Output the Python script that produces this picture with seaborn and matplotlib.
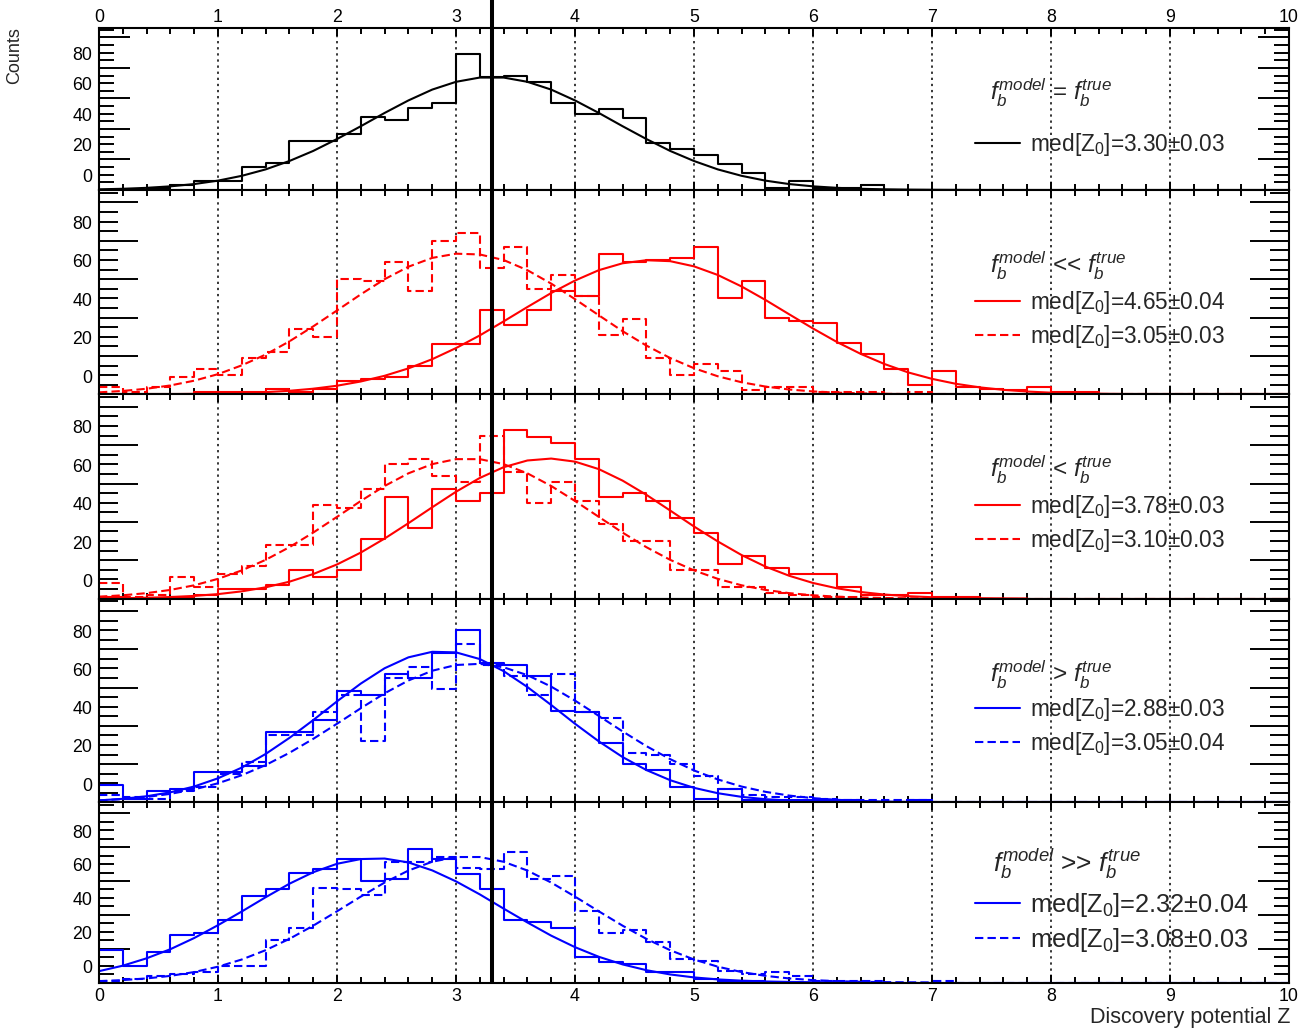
import numpy as np
import pandas as pd
import matplotlib
matplotlib.use("Agg")
import matplotlib.pyplot as plt
import seaborn as sns
from matplotlib.ticker import MultipleLocator, FixedLocator, NullFormatter
from matplotlib.transforms import ScaledTranslation

# ------------------------------------------------------------------ data
BIN_EDGES = [round(0.2 * k, 1) for k in range(51)]     # 0.2 wide bins
CURVE_X = [round(0.2 * k, 1) for k in range(51)]       # fit curves sampled every 0.2
X_TICKS = list(range(0, 11))
X_TICK_LABELS = [str(v) for v in X_TICKS]
Y_TICKS = [0, 20, 40, 60, 80, 100]
Y_TICK_LABELS = ["0", "20", "40", "60", "80", ""]
REFERENCE_Z = 3.30
X_LABEL = "Discovery potential Z"
Y_LABEL = "Counts"

PANEL_TITLES = [
    r"$f_b^{model}$ = $f_b^{true}$",
    r"$f_b^{model}$ << $f_b^{true}$",
    r"$f_b^{model}$ < $f_b^{true}$",
    r"$f_b^{model}$ > $f_b^{true}$",
    r"$f_b^{model}$ >> $f_b^{true}$",
]

# panel 1  (f_model = f_true)
H1 = [0, 0, 1, 3, 6, 6, 15, 18, 32, 32, 37, 48, 46, 54, 57, 89, 74, 75, 71, 57,
      50, 53, 47, 31, 27, 23, 17, 11, 1, 6, 1, 1, 3]
C1 = [0.44, 0.80, 1.41, 2.40, 3.89, 6.14, 9.29, 13.5, 19.0, 25.6, 33.4, 41.8, 50.5,
      58.7, 65.8, 70.9, 73.7, 73.7, 70.9, 65.8, 58.7, 50.5, 41.8, 33.4, 25.6, 19.0,
      13.5, 9.29, 6.14, 3.89, 2.40, 1.41, 0.80, 0.44, 0.23, 0.12, 0.06, 0.03]
# panel 2  (f_model << f_true)
H2_SOLID = [0, 0, 0, 0, 1, 1, 1, 3, 1, 3, 7, 8, 9, 15, 26, 26, 44, 36, 44, 54,
            51, 73, 69, 70, 71, 77, 50, 59, 40, 38, 37, 27, 21, 13, 5, 12, 4, 3, 2, 4,
            1, 1]
C2_SOLID = [0.01, 0.03, 0.06, 0.11, 0.21, 0.38, 0.66, 1.12, 1.83, 2.91, 4.47, 6.68,
            9.65, 13.5, 18.3, 24.1, 30.7, 38.0, 45.5, 52.8, 59.3, 64.7, 68.3, 69.9,
            69.4, 66.7, 62.2, 56.2, 49.2, 41.7, 34.3, 27.3, 21.1, 15.8, 11.4, 8.05,
            5.48, 3.62, 2.32, 1.44, 0.86, 0.50, 0.28, 0.15, 0.08]
H2_DASH = [4, 1, 4, 9, 13, 10, 19, 22, 34, 30, 60, 59, 69, 54, 80, 84, 66, 77, 55, 62,
           51, 31, 39, 19, 10, 16, 12, 2, 4, 4, 1, 1, 1, 0, 1]
C2_DASH = [1.02, 1.75, 2.90, 4.62, 7.10, 10.5, 15.1, 20.7, 27.6, 35.4, 43.7, 52.1,
           60.0, 66.5, 71.1, 73.3, 72.9, 70.0, 64.7, 57.7, 49.6, 41.2, 32.9, 25.4,
           18.9, 13.6, 9.39, 6.27, 4.04, 2.50, 1.50, 0.87, 0.48, 0.26, 0.13, 0.06]
# panel 3  (f_model < f_true)
H3_SOLID = [1, 0, 0, 1, 2, 5, 5, 7, 15, 11, 15, 31, 53, 37, 57, 51, 55, 88, 84, 81,
            73, 53, 55, 51, 42, 34, 18, 22, 16, 13, 13, 6, 2, 2, 3, 1, 1]
C3_SOLID = [0.13, 0.24, 0.45, 0.81, 1.40, 2.34, 3.78, 5.87, 8.81, 12.8, 17.8, 24.0,
            31.3, 39.3, 47.6, 55.7, 62.9, 68.5, 72.0, 73.0, 71.4, 67.5, 61.5, 54.1,
            45.9, 37.6, 29.8, 22.7, 16.7, 11.9, 8.15, 5.39, 3.44, 2.12, 1.26, 0.72,
            0.40, 0.21, 0.11, 0.05]
H3_DASH = [8, 1, 2, 11, 6, 13, 17, 28, 28, 49, 47, 57, 70, 73, 64, 61, 85, 66, 50, 61,
           51, 39, 30, 30, 15, 15, 6, 6, 3, 2, 1, 1]
C3_DASH = [1.01, 1.73, 2.85, 4.53, 6.93, 10.3, 14.7, 20.2, 26.8, 34.4, 42.6, 50.9,
           58.7, 65.3, 70.1, 72.7, 72.7, 70.1, 65.3, 58.7, 50.9, 42.6, 34.4, 26.8,
           20.2, 14.7, 10.3, 6.93, 4.53, 2.85, 1.73, 1.01, 0.57, 0.31, 0.16, 0.08]
# panel 4  (f_model > f_true)
H4_SOLID = [9, 2, 6, 7, 16, 16, 19, 37, 37, 43, 58, 56, 67, 65, 78, 90, 73, 72, 66, 48,
            47, 31, 20, 17, 8, 2, 7, 1, 1, 1, 1, 1, 0, 0, 1]
C4_SOLID = [1.05, 1.88, 3.22, 5.27, 8.31, 12.6, 18.2, 25.3, 33.7, 43.0, 52.8, 62.1,
            70.1, 75.8, 78.7, 78.4, 74.9, 68.6, 60.3, 50.9, 41.1, 31.9, 23.7, 16.9,
            11.6, 7.61, 4.80, 2.90, 1.68, 0.93, 0.50, 0.25, 0.12, 0.06]
H4_DASH = [4, 3, 2, 6, 8, 15, 21, 35, 35, 47, 56, 32, 65, 71, 59, 83, 72, 66, 56, 67,
           47, 44, 26, 25, 20, 14, 7, 4, 3, 3, 2, 1, 1, 1, 1]
C4_DASH = [1.03, 1.74, 2.83, 4.47, 6.80, 9.99, 14.2, 19.5, 25.9, 33.2, 41.1, 49.2,
           57.0, 63.7, 68.8, 71.8, 72.4, 70.6, 66.5, 60.5, 53.2, 45.2, 37.1, 29.4,
           22.6, 16.7, 12.0, 8.28, 5.53, 3.57, 2.23, 1.34, 0.78, 0.44, 0.24, 0.12]
# panel 5  (f_model >> f_true)
H5_SOLID = [19, 10, 18, 28, 29, 37, 51, 55, 65, 67, 73, 60, 61, 79, 73, 64, 55, 37, 36,
            32, 15, 12, 11, 6, 6, 2, 1, 1]
C5_SOLID = [6.70, 9.95, 14.3, 19.7, 26.3, 33.9, 42.0, 50.4, 58.4, 65.2, 70.2, 73.0,
            73.3, 71.0, 66.3, 59.8, 52.1, 43.7, 35.5, 27.7, 20.9, 15.2, 10.7, 7.28,
            4.76, 3.01, 1.83, 1.08, 0.61, 0.34, 0.18, 0.09, 0.05]
H5_DASH = [1, 2, 4, 5, 6, 10, 10, 25, 32, 56, 55, 52, 71, 71, 74, 68, 67, 77, 61, 63,
           42, 29, 31, 24, 14, 13, 7, 5, 6, 4, 1, 1, 1, 0, 0, 1]
C5_DASH = [0.80, 1.42, 2.41, 3.92, 6.18, 9.35, 13.6, 19.1, 25.8, 33.6, 42.1, 50.8,
           59.1, 66.2, 71.4, 74.2, 74.2, 71.4, 66.2, 59.1, 50.8, 42.1, 33.6, 25.8,
           19.1, 13.6, 9.35, 6.18, 3.92, 2.41, 1.42, 0.80, 0.44, 0.23, 0.12, 0.06]

PANEL_SERIES = [
    [(H1, C1, "black", "solid", "med[Z$_0$]=3.30±0.03")],
    [(H2_SOLID, C2_SOLID, "red", "solid", "med[Z$_0$]=4.65±0.04"),
     (H2_DASH, C2_DASH, "red", "dashed", "med[Z$_0$]=3.05±0.03")],
    [(H3_SOLID, C3_SOLID, "red", "solid", "med[Z$_0$]=3.78±0.03"),
     (H3_DASH, C3_DASH, "red", "dashed", "med[Z$_0$]=3.10±0.03")],
    [(H4_SOLID, C4_SOLID, "blue", "solid", "med[Z$_0$]=2.88±0.03"),
     (H4_DASH, C4_DASH, "blue", "dashed", "med[Z$_0$]=3.05±0.04")],
    [(H5_SOLID, C5_SOLID, "blue", "solid", "med[Z$_0$]=2.32±0.04"),
     (H5_DASH, C5_DASH, "blue", "dashed", "med[Z$_0$]=3.08±0.03")],
]

# ------------------------------------------------------------------ style / layout
sns.set_theme(style="white")
plt.rcParams["font.family"] = ["Liberation Sans", "DejaVu Sans"]
plt.rcParams["mathtext.fontset"] = "custom"
plt.rcParams["mathtext.rm"] = "Liberation Sans"
plt.rcParams["mathtext.it"] = "Liberation Sans:italic"
plt.rcParams["mathtext.bf"] = "Liberation Sans:bold"
plt.rcParams["axes.edgecolor"] = "black"

W_PX, H_PX, DPI = 1304, 1034, 100
AX_L, AX_R = 99.0, 1289.0
EDGES_PX = [27.5, 190.0, 394.3, 598.6, 802.4, 982.5]
YMAX = 106.5
LABEL_SHIFT = 9.5          # y tick labels drawn above their ticks (as in the original)
DASH = (0, (4, 2))
LW = 1.5

TITLE_POS = [(990, 93), (990, 266), (990, 470), (990, 675), (993, 864)]
LEGEND_POS = [(975, 144), (975, 319.5), (975, 523.5), (975, 726.5), (975, 922.5)]
TITLE_FS = [17.5, 17.5, 17.5, 17.5, 19]
LEGEND_FS = [16.3, 16.3, 16.3, 16.3, 18.3]
LEGEND_SPACING = [0.3, 0.3, 0.3, 0.3, 0.25]
HANDLE_PX, HANDLE_GAP_PX = 45.0, 10.0
YMAJ_LEN = [22.3, 28, 28, 28, 22.3]
YMIN_LEN = [10.8, 13.7, 13.7, 13.7, 10.8]

fig = plt.figure(figsize=(W_PX / DPI, H_PX / DPI), dpi=DPI)
fig.patch.set_facecolor("white")

centers = [0.5 * (a + b) for a, b in zip(BIN_EDGES[:-1], BIN_EDGES[1:])]
axes = []
for i, series in enumerate(PANEL_SERIES):
    top, bot = EDGES_PX[i], EDGES_PX[i + 1]
    ax = fig.add_axes([AX_L / W_PX, 1 - bot / H_PX, (AX_R - AX_L) / W_PX, (bot - top) / H_PX])
    ax.set_facecolor("white")
    axes.append(ax)
    handles, labels = [], []
    for counts, curve, color, style, label in series:
        full = list(counts) + [0] * (len(centers) - len(counts))
        df = pd.DataFrame({"z": centers, "n": full})
        ls = "-" if style == "solid" else DASH
        sns.histplot(data=df, x="z", weights="n", bins=BIN_EDGES, element="step",
                     fill=False, color=color, linewidth=LW, linestyle=ls, ax=ax, zorder=3)
        cdf = pd.DataFrame({"z": CURVE_X[:len(curve)], "f": curve})
        sns.lineplot(data=cdf, x="z", y="f", color=color, linewidth=LW, linestyle=ls,
                     ax=ax, zorder=4, sort=False)
        handles.append(ax.lines[-1])
        labels.append(label)

    ax.set_xlim(0, 10)
    ax.set_ylim(0, YMAX)
    ax.set_xlabel("")
    ax.set_ylabel("")
    for s in ax.spines.values():
        s.set_linewidth(1.5)
        s.set_color("black")
        s.set_zorder(6)

    # vertical reference line
    if i == 0:
        ax.axvline(REFERENCE_Z, ymin=0, ymax=1 + top / (bot - top), color="black",
                   linewidth=2.9, clip_on=False, zorder=7)
    else:
        ax.axvline(REFERENCE_Z, color="black", linewidth=2.9, zorder=7)

    # grid
    ax.set_axisbelow(True)
    ax.xaxis.set_major_locator(FixedLocator(X_TICKS))
    ax.xaxis.set_minor_locator(MultipleLocator(0.2))
    ax.grid(axis="x", which="major", color="black", linestyle=(0, (1.5, 2.5)), linewidth=1.1)
    ax.grid(axis="y", visible=False)

    # x ticks
    ax.set_xticks(X_TICKS)
    ax.set_xticklabels(X_TICK_LABELS)
    ax.tick_params(axis="x", which="major", direction="in", length=6, width=1.4,
                   top=True, bottom=True, color="black", labelsize=12.8,
                   pad=(0.8 if i == 0 else 4),
                   labelcolor="black", labelbottom=(i == 4), labeltop=(i == 0))
    ax.tick_params(axis="x", which="minor", direction="in", length=4.5, width=1.4,
                   top=True, bottom=True, color="black")

    # y ticks
    ax.set_yticks(Y_TICKS)
    ax.set_yticklabels(Y_TICK_LABELS)
    ax.yaxis.set_minor_locator(MultipleLocator(5))
    ax.yaxis.set_minor_formatter(NullFormatter())
    ax.tick_params(axis="y", which="major", direction="in", length=YMAJ_LEN[i], width=1.4,
                   left=True, right=True, color="black", labelsize=12.8, pad=5,
                   labelcolor="black")
    ax.tick_params(axis="y", which="minor", direction="in", length=YMIN_LEN[i], width=1.4,
                   left=True, right=True, color="black")
    dy = LABEL_SHIFT * (bot - top) / YMAX / DPI
    off = ScaledTranslation(0, dy, fig.dpi_scale_trans)
    for t in ax.yaxis.get_major_ticks():
        t.label1.set_transform(t.label1.get_transform() + off)

    # title + legend
    tx, ty = TITLE_POS[i]
    ax.text((tx - AX_L) / (AX_R - AX_L), (bot - ty) / (bot - top), PANEL_TITLES[i],
            transform=ax.transAxes, ha="left", va="center", fontsize=TITLE_FS[i], zorder=8)
    lx, ly = LEGEND_POS[i]
    fs_px = LEGEND_FS[i] * DPI / 72.0
    ax.legend(handles=handles, labels=labels, loc="center left",
              bbox_to_anchor=((lx - AX_L) / (AX_R - AX_L), (bot - ly) / (bot - top)),
              frameon=False, fontsize=LEGEND_FS[i], handlelength=HANDLE_PX / fs_px,
              handletextpad=HANDLE_GAP_PX / fs_px,
              labelspacing=LEGEND_SPACING[i], borderpad=0, borderaxespad=0)

fig.text(15 / W_PX, 1 - 56 / H_PX, Y_LABEL, rotation=90, ha="center", va="center",
         fontsize=13)
fig.text(1290 / W_PX, 1 - 1018 / H_PX, X_LABEL, ha="right", va="center", fontsize=15.5)

fig.savefig("out.png", dpi=DPI, facecolor="white")
